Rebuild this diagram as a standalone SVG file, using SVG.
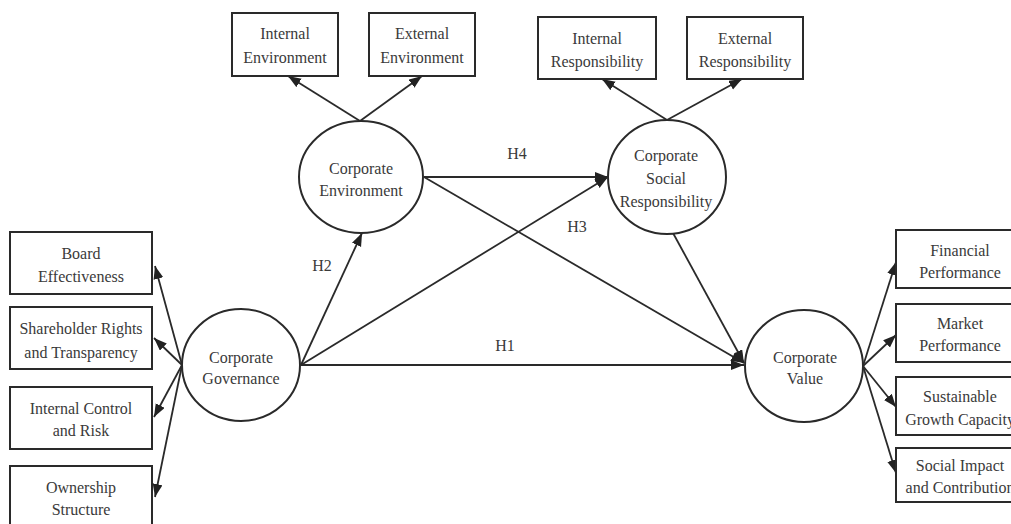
<svg xmlns="http://www.w3.org/2000/svg" width="1011" height="524" viewBox="0 0 1011 524">
<style>
.box{fill:#fff;stroke:#2a2a2a;stroke-width:2}
.ell{fill:#fff;stroke:#2a2a2a;stroke-width:2}
text{font-family:"Liberation Serif","Times New Roman",serif;font-size:16px;fill:#3a3a3a;text-anchor:middle}
.c line{stroke:#2a2a2a;stroke-width:1.8;marker-end:url(#ah)}
</style>
<defs>
<marker id="ah" markerUnits="userSpaceOnUse" markerWidth="14" markerHeight="12" refX="13" refY="5" orient="auto">
<path d="M0,0 L13,5 L0,10 Z" fill="#222"/>
</marker>
</defs>
<rect width="1011" height="524" fill="#fff"/>
<g id="connectors" class="c">
<line x1="182" y1="365" x2="155" y2="266"/>
<line x1="182" y1="365" x2="154" y2="338"/>
<line x1="182" y1="365" x2="154" y2="417"/>
<line x1="182" y1="365" x2="155" y2="497"/>
<line x1="360" y1="121" x2="288" y2="76"/>
<line x1="360" y1="121" x2="422" y2="76"/>
<line x1="667" y1="120" x2="602" y2="79"/>
<line x1="667" y1="120" x2="742" y2="79"/>
<line x1="863" y1="366" x2="896" y2="262"/>
<line x1="863" y1="366" x2="896" y2="335"/>
<line x1="863" y1="366" x2="896" y2="407"/>
<line x1="863" y1="366" x2="896" y2="473"/>
<line x1="301" y1="365" x2="362" y2="233"/>
<line x1="301" y1="365" x2="608" y2="177"/>
<line x1="301" y1="365" x2="744" y2="365"/>
<line x1="424" y1="177" x2="608" y2="177"/>
<line x1="424" y1="177" x2="744" y2="363"/>
<line x1="673" y1="233" x2="744" y2="363"/>
</g>
<g id="labels">
<text x="322" y="271">H2</text>
<text x="577" y="232">H3</text>
<text x="517" y="159">H4</text>
<text x="505" y="351">H1</text>
</g>
<g id="board"><rect class="box" x="10" y="232" width="142" height="62"/><text x="81" y="259">Board</text><text x="81" y="282">Effectiveness</text></g>
<g id="shareholder"><rect class="box" x="10" y="307" width="142" height="62"/><text x="81" y="334">Shareholder Rights</text><text x="81" y="358">and Transparency</text></g>
<g id="internal-control"><rect class="box" x="10" y="387" width="142" height="62"/><text x="81" y="414">Internal Control</text><text x="81" y="436">and Risk</text></g>
<g id="ownership"><rect class="box" x="10" y="466" width="142" height="64"/><text x="81" y="493">Ownership</text><text x="81" y="515">Structure</text></g>
<g id="corporate-governance"><ellipse class="ell" cx="241" cy="365" rx="59" ry="56"/><text x="241" y="363">Corporate</text><text x="241" y="384">Governance</text></g>
<g id="internal-environment"><rect class="box" x="232" y="13" width="106" height="63"/><text x="285" y="39">Internal</text><text x="285" y="63">Environment</text></g>
<g id="external-environment"><rect class="box" x="369" y="13" width="106" height="63"/><text x="422" y="39">External</text><text x="422" y="63">Environment</text></g>
<g id="corporate-environment"><ellipse class="ell" cx="361" cy="177" rx="62" ry="56"/><text x="361" y="174">Corporate</text><text x="361" y="196">Environment</text></g>
<g id="internal-responsibility"><rect class="box" x="538" y="17" width="118" height="62"/><text x="597" y="44">Internal</text><text x="597" y="67">Responsibility</text></g>
<g id="external-responsibility"><rect class="box" x="687" y="17" width="116" height="62"/><text x="745" y="44">External</text><text x="745" y="67">Responsibility</text></g>
<g id="corporate-social-responsibility"><ellipse class="ell" cx="667" cy="177" rx="59" ry="57"/><text x="666" y="161">Corporate</text><text x="666" y="184">Social</text><text x="666" y="207">Responsibility</text></g>
<g id="corporate-value"><ellipse class="ell" cx="804" cy="366" rx="59" ry="56"/><text x="805" y="363">Corporate</text><text x="805" y="384">Value</text></g>
<g id="financial"><rect class="box" x="896" y="230" width="130" height="58"/><text x="960" y="256">Financial</text><text x="960" y="278">Performance</text></g>
<g id="market"><rect class="box" x="896" y="304" width="130" height="58"/><text x="960" y="329">Market</text><text x="960" y="351">Performance</text></g>
<g id="sustainable"><rect class="box" x="896" y="377" width="130" height="58"/><text x="960" y="402">Sustainable</text><text x="960" y="425">Growth Capacity</text></g>
<g id="social-impact"><rect class="box" x="896" y="448" width="130" height="54"/><text x="960" y="471">Social Impact</text><text x="960" y="493">and Contribution</text></g>
</svg>
